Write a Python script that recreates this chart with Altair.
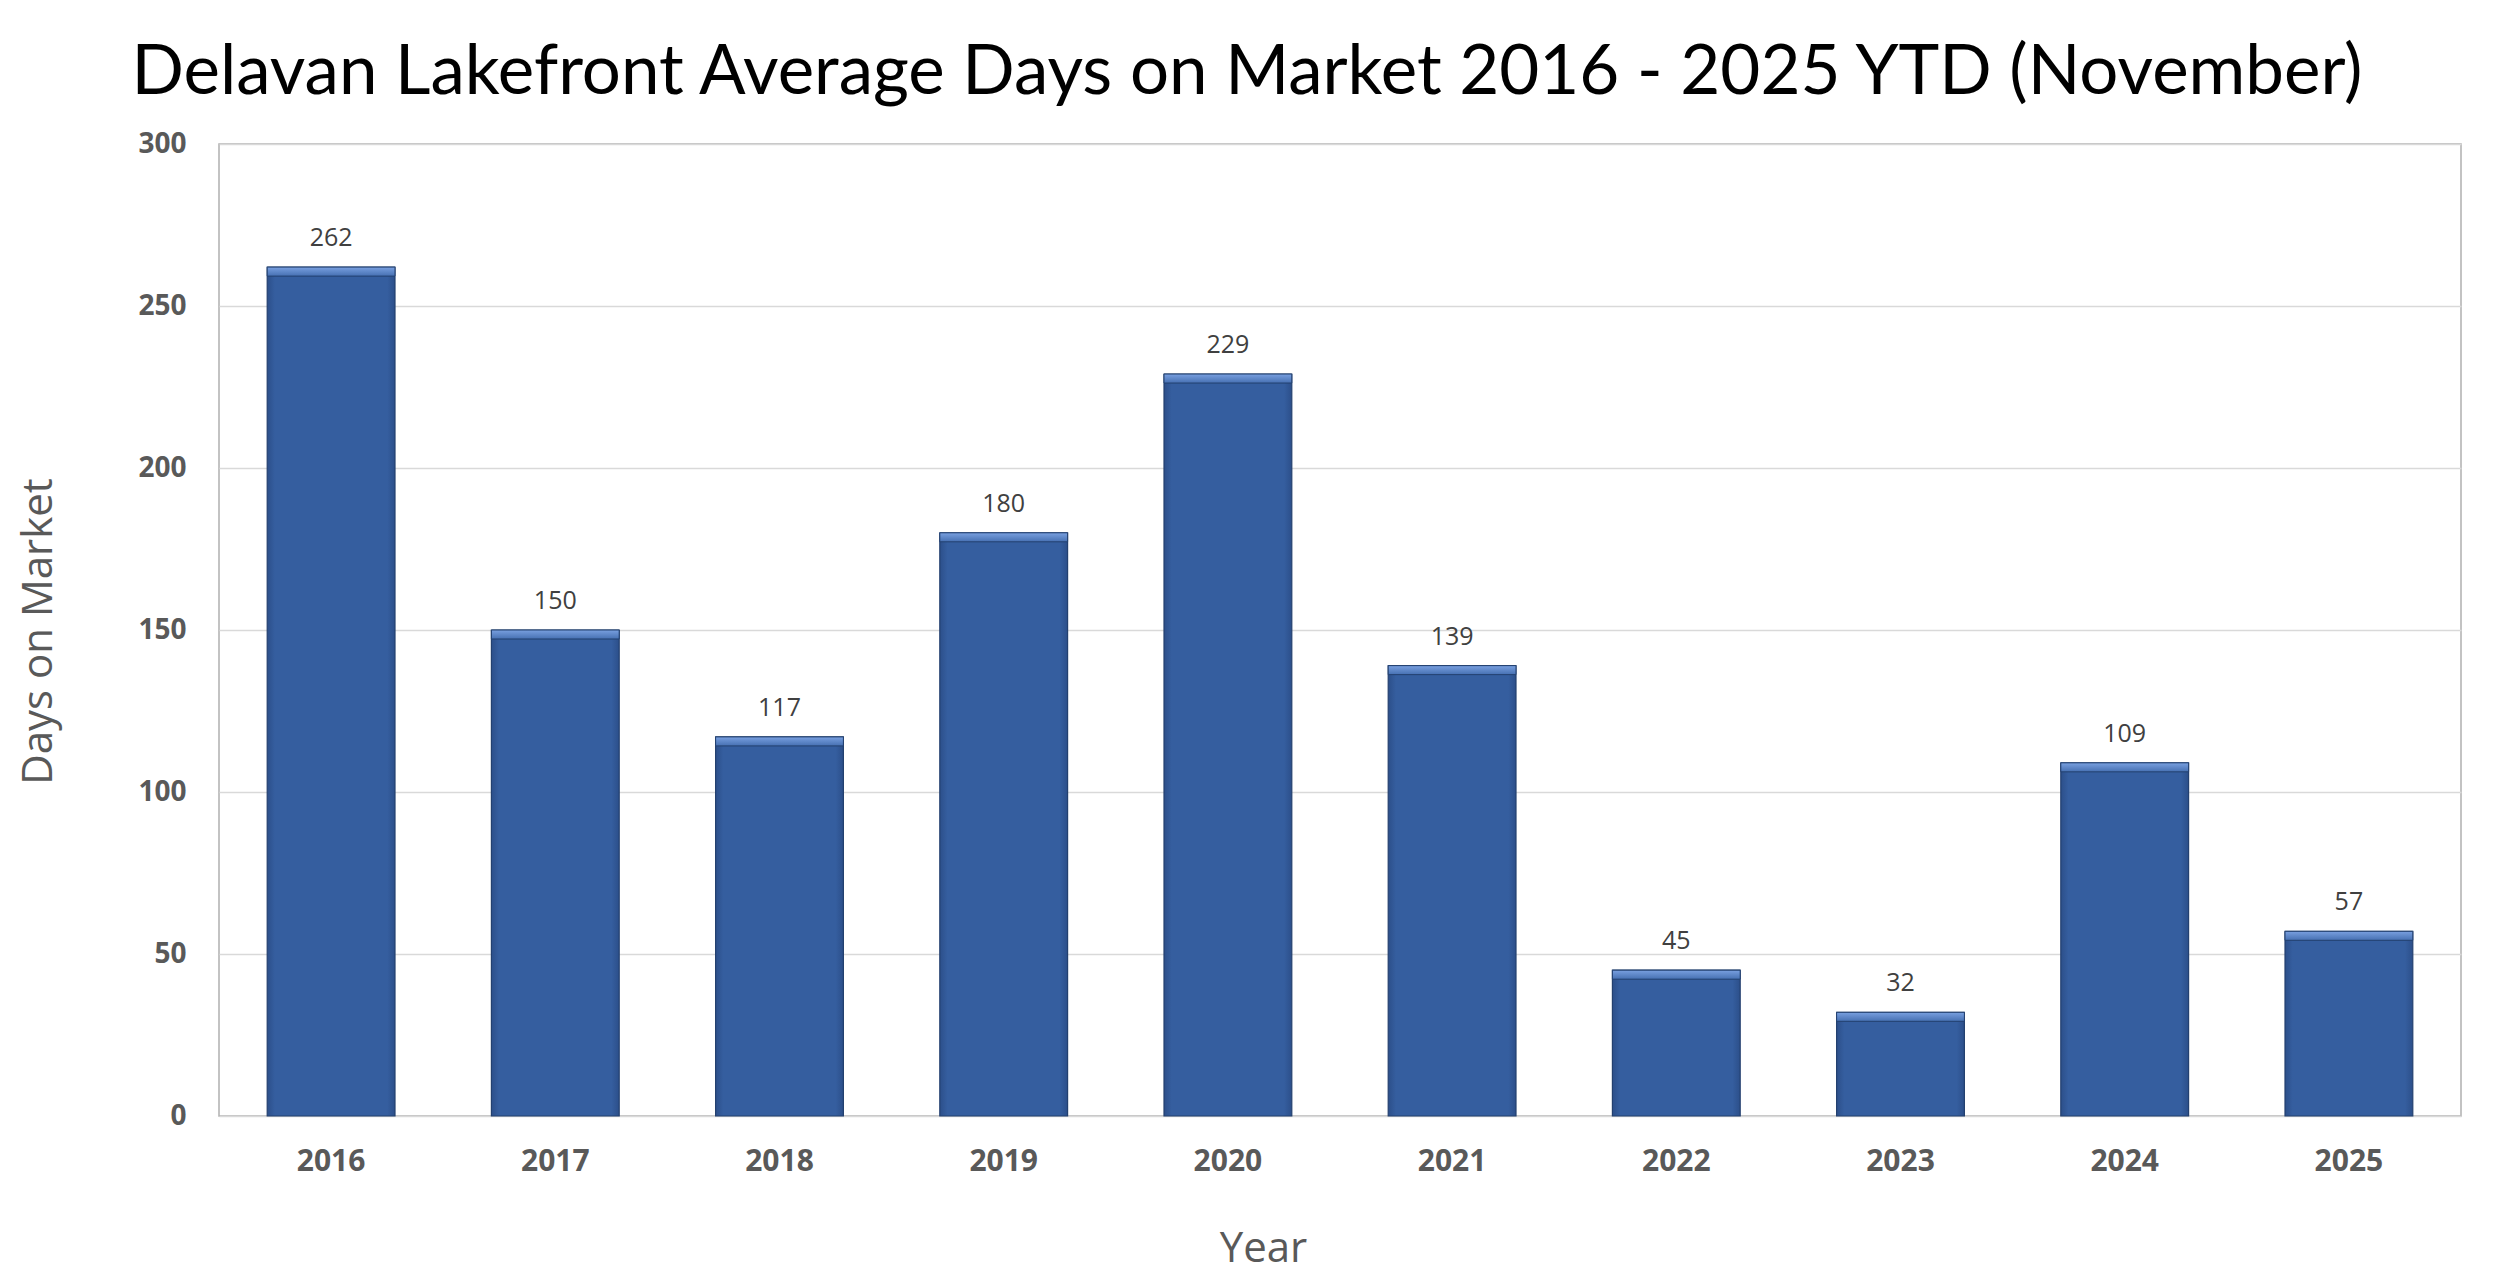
import altair as alt
import pandas as pd

years = ["2016", "2017", "2018", "2019", "2020", "2021", "2022", "2023", "2024", "2025"]
days = [262, 150, 117, 180, 229, 139, 45, 32, 109, 57]

df = pd.DataFrame({"Year": years, "Days": days})

FONT = "Open Sans"
W, H = 2242, 972

x = alt.X("Year:N", sort=years,
          scale=alt.Scale(paddingInner=0.43, paddingOuter=0.215),
          axis=alt.Axis(title="Year", labelAngle=0, labelFont=FONT, labelFontWeight="bold",
                        labelFontSize=30, labelColor="#595959", labelPadding=30,
                        ticks=False, domain=False,
                        titleFont=FONT, titleFontSize=42, titleFontWeight="normal",
                        titleColor="#595959", titleX=1044, titleY=132,
                        titleBaseline="middle", titleAlign="center"))
y = alt.Y("Days:Q",
          scale=alt.Scale(domain=[0, 300], nice=False),
          axis=alt.Axis(title="Days on Market", values=[0, 50, 100, 150, 200, 250, 300],
                        labelFont=FONT, labelFontWeight="bold", labelFontSize=28,
                        labelColor="#595959", labelPadding=33, ticks=False, domain=False,
                        gridColor="#D9D9D9", gridWidth=1.5,
                        titleFont=FONT, titleFontSize=42, titleFontWeight="normal",
                        titleColor="#595959", titleAngle=-90, titleX=-181, titleY=487,
                        titleBaseline="middle", titleAlign="center"))

base = alt.Chart(df)

bars = base.mark_bar(
    color={"gradient": "linear", "x1": 0, "y1": 0, "x2": 1, "y2": 0,
           "stops": [{"offset": 0, "color": "#2C4F8A"},
                     {"offset": 0.06, "color": "#355E9F"},
                     {"offset": 0.94, "color": "#355E9F"},
                     {"offset": 1, "color": "#2C4F8A"}]},
    stroke="#23406F", strokeWidth=1.2
).encode(x=x, y=y)

highlight = base.mark_bar(
    color={"gradient": "linear", "x1": 0, "y1": 0, "x2": 0, "y2": 1,
           "stops": [{"offset": 0, "color": "#79A0E0"},
                     {"offset": 1, "color": "#4670B2"}]},
    y2Offset=9, stroke="#23406F", strokeWidth=1.0
).encode(x=x, y=alt.Y("Days:Q"), y2=alt.Y2("Days:Q"))

labels = base.mark_text(
    font=FONT, fontSize=25, color="#404040", baseline="alphabetic", dy=-21
).encode(x=x, y=alt.Y("Days:Q"), text=alt.Text("Days:Q"))

chart = alt.layer(bars, highlight, labels).properties(
    width=W, height=H,
    title=alt.TitleParams(
        "Delavan Lakefront Average Days on Market 2016 - 2025 YTD (November)",
        font="Lato", fontSize=69, fontWeight="normal", color="#000000",
        anchor="middle", frame="group", dx=-93, offset=22
    ),
    autosize=alt.AutoSizeParams(type="none"),
    padding={"left": 211, "top": 136, "right": 31, "bottom": 159}
).configure_view(
    stroke="#B0B0B0", strokeWidth=1.5
)

chart.save("out.html", embed_options={"renderer": "svg", "actions": False})
